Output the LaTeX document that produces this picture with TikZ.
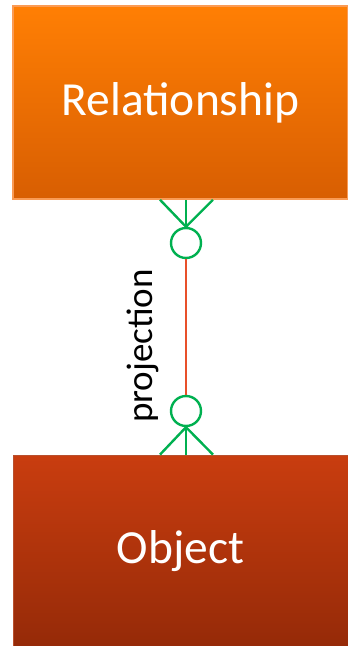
\documentclass[tikz,border=0pt]{standalone}
\usepackage{fontspec}
\setmainfont{Carlito}
\usepackage{tikz}
\usetikzlibrary{positioning}
\definecolor{relTop}{HTML}{FF7F04}
\definecolor{relBot}{HTML}{D85E02}
\definecolor{relEdge}{HTML}{FA9B55}
\definecolor{objTop}{HTML}{C93D0F}
\definecolor{objBot}{HTML}{952A08}
\definecolor{objEdge}{HTML}{B8502E}
\definecolor{cardGreen}{HTML}{00B050}
\definecolor{linkRed}{HTML}{E8502A}

\begin{document}
\begin{tikzpicture}[x=1pt,y=1pt,
  entity/.style={rectangle,minimum width=335pt,text=white,font=\fontsize{47.5}{52}\selectfont},
  card/.style={circle,draw=cardGreen,line width=2.4pt,minimum size=30pt,inner sep=0pt},
  foot/.style={draw=cardGreen,line width=2.4pt},
  link/.style={draw=linkRed,line width=1.6pt}]

  \useasboundingbox (0,0) rectangle (348,-646);

  \node[entity,minimum height=193pt,top color=relTop,bottom color=relBot,
        draw=relEdge,line width=1.5pt] (rel) at (180.5,-102.5) {Relationship};
  \node[entity,minimum height=193pt,top color=objTop,bottom color=objBot,
        draw=objEdge,line width=0.8pt] (obj) at (180.5,-551.5) {Object};

  \node[card] (relCard) at (186,-243) {};
  \node[card] (objCard) at (186,-411) {};

  \coordinate (relFoot) at (relCard |- rel.south);
  \coordinate (objFoot) at (objCard |- obj.north);

  % crow's feet
  \foreach \dx in {-26,0,27} {
    \path[foot] (relCard.north) -- ([xshift=\dx pt]relFoot);
    \path[foot] (objCard.south) -- ([xshift=\dx pt]objFoot);
  }

  \path[link] (relCard.south) -- (objCard.north);
  \node[rotate=90,font=\fontsize{37}{42}\selectfont] (proj) at (143,-346) {projection};
\end{tikzpicture}
\end{document}
